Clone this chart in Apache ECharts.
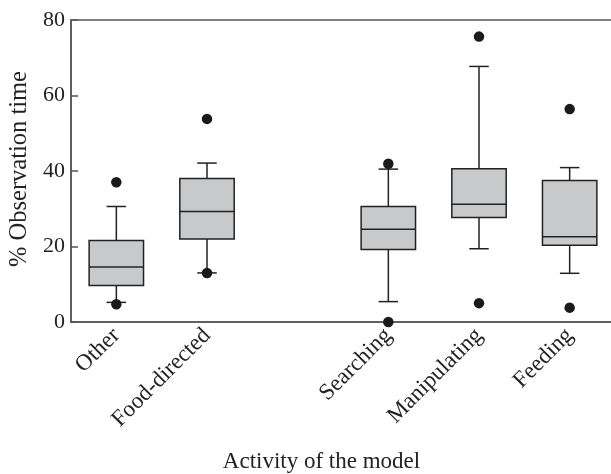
<!DOCTYPE html>
<html><head><meta charset="utf-8">
<script src="https://cdn.jsdelivr.net/npm/echarts@6/dist/echarts.min.js"></script>
<style>html,body{margin:0;padding:0;background:#fff}#chart{width:611px;height:474px}</style>
</head><body><div id="chart"></div>
<script>
// Categories (the empty one is the gap between the two groups)
const categories = ['Other', 'Food-directed', '', 'Searching', 'Manipulating', 'Feeding'];
// Box-plot statistics per category (% observation time)
const whiskerLow  = [5.2, 13.0, null, 5.4, 19.4, 12.9];
const q1          = [9.7, 22.0, null, 19.2, 27.7, 20.3];
const median      = [14.6, 29.3, null, 24.6, 31.2, 22.6];
const q3          = [21.6, 38.0, null, 30.6, 40.6, 37.5];
const whiskerHigh = [30.6, 42.1, null, 40.5, 67.7, 40.9];
// Outliers
const outlierCategory = ['Other', 'Other', 'Food-directed', 'Food-directed', 'Searching', 'Searching', 'Manipulating', 'Manipulating', 'Feeding', 'Feeding'];
const outlierValue    = [37.0, 4.7, 53.8, 13.0, 41.9, 0.0, 75.6, 5.0, 56.4, 3.8];
// Y axis ticks
const yTicks = [0, 20, 40, 60, 80];

const boxData = [];
categories.forEach((c, i) => {
  if (q1[i] !== null) boxData.push([i, whiskerLow[i], q1[i], median[i], q3[i], whiskerHigh[i]]);
});
const outlierData = outlierCategory.map((c, i) => [c, outlierValue[i]]);

const FONT = 'Liberation Serif';
const INK = '#222';

function renderBox(params, api) {
  const x = api.value(0);
  const band = api.size([1, 0])[0];
  const bw = band * 0.6;
  const cw = band * 0.215;
  const pLow = api.coord([x, api.value(1)]);
  const pQ1 = api.coord([x, api.value(2)]);
  const pMed = api.coord([x, api.value(3)]);
  const pQ3 = api.coord([x, api.value(4)]);
  const pHigh = api.coord([x, api.value(5)]);
  const cx = pQ1[0];
  const ls = { stroke: INK, lineWidth: 1.5, fill: null };
  return {
    type: 'group',
    children: [
      { type: 'line', shape: { x1: cx, y1: pQ3[1], x2: cx, y2: pHigh[1] }, style: ls },
      { type: 'line', shape: { x1: cx, y1: pQ1[1], x2: cx, y2: pLow[1] }, style: ls },
      { type: 'line', shape: { x1: cx - cw / 2, y1: pHigh[1], x2: cx + cw / 2, y2: pHigh[1] }, style: ls },
      { type: 'line', shape: { x1: cx - cw / 2, y1: pLow[1], x2: cx + cw / 2, y2: pLow[1] }, style: ls },
      { type: 'rect', shape: { x: cx - bw / 2, y: pQ3[1], width: bw, height: pQ1[1] - pQ3[1] },
        style: { fill: '#c8c9cb', stroke: INK, lineWidth: 1.5 } },
      { type: 'line', shape: { x1: cx - bw / 2, y1: pMed[1], x2: cx + bw / 2, y2: pMed[1] }, style: ls }
    ]
  };
}

const chart = echarts.init(document.getElementById('chart'));
chart.setOption({
  animation: false,
  backgroundColor: '#fff',
  grid: {
    left: 71, top: 20, right: -4, bottom: 152,
    containLabel: false, outerBoundsMode: 'none',
    show: true, borderColor: '#555', borderWidth: 1.5, backgroundColor: 'transparent'
  },
  xAxis: {
    type: 'category',
    data: categories,
    boundaryGap: true,
    name: 'Activity of the model',
    nameLocation: 'middle',
    nameGap: 128,
    nameTextStyle: { fontFamily: FONT, fontSize: 23, color: INK, padding: [0, 43, 0, 0] },
    axisLine: { lineStyle: { color: '#555', width: 1.5 } },
    axisTick: { inside: true, length: 7, alignWithLabel: true, lineStyle: { color: '#555', width: 1.5 } },
    axisLabel: { rotate: 45, interval: 0, margin: 10, fontFamily: FONT, fontSize: 23, color: INK },
    splitLine: { show: false }
  },
  yAxis: {
    type: 'value',
    min: yTicks[0], max: yTicks[yTicks.length - 1], interval: 20,
    name: '% Observation time',
    nameLocation: 'middle',
    nameGap: 38,
    nameTextStyle: { fontFamily: FONT, fontSize: 24.5, color: INK, padding: [0, 0, 0, 4] },
    axisLine: { show: true, lineStyle: { color: '#555', width: 1.5 } },
    axisTick: { show: true, inside: true, length: 7, lineStyle: { color: '#555', width: 1.5 } },
    axisLabel: { margin: 6, fontFamily: FONT, fontSize: 22, color: INK },
    splitLine: { show: false }
  },
  series: [
    { type: 'custom', data: boxData, renderItem: renderBox, z: 2,
      encode: { x: 0, y: [1, 2, 3, 4, 5] } },
    { type: 'scatter', data: outlierData, symbol: 'circle', symbolSize: 10.5,
      itemStyle: { color: '#1a1a1a', opacity: 1 }, z: 5 }
  ]
});
</script>
</body></html>
